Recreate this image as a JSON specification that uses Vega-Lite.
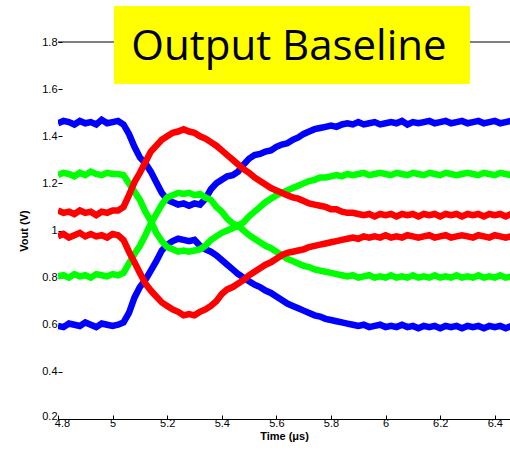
{
  "$schema": "https://vega.github.io/schema/vega-lite/v6.json",
  "width": 452,
  "height": 377,
  "autosize": {"type": "none"},
  "padding": {"left": 58, "top": 42, "right": 0, "bottom": 36},
  "background": "white",
  "config": {
    "view": {"stroke": null},
    "axis": {
      "grid": false,
      "labelFont": "Liberation Sans",
      "labelFontSize": 11,
      "labelColor": "#000000",
      "tickColor": "#000000",
      "domainColor": "#000000",
      "titleFont": "Liberation Sans",
      "titleFontSize": 11,
      "titleFontWeight": "bold",
      "titleColor": "#000000",
      "labelFlush": false,
      "labelOverlap": false
    }
  },
  "datasets": {
    "traces": [
      {"t": 4.80, "b1": 1.455, "b2": 0.595, "g1": 1.235, "g2": 0.805, "r1": 1.085, "r2": 0.975},
      {"t": 4.82, "b1": 1.465, "b2": 0.59, "g1": 1.245, "g2": 0.81, "r1": 1.075, "r2": 0.985},
      {"t": 4.84, "b1": 1.46, "b2": 0.605, "g1": 1.24, "g2": 0.80, "r1": 1.08, "r2": 0.97},
      {"t": 4.86, "b1": 1.45, "b2": 0.60, "g1": 1.23, "g2": 0.815, "r1": 1.07, "r2": 0.98},
      {"t": 4.88, "b1": 1.465, "b2": 0.595, "g1": 1.245, "g2": 0.805, "r1": 1.085, "r2": 0.99},
      {"t": 4.90, "b1": 1.455, "b2": 0.61, "g1": 1.235, "g2": 0.81, "r1": 1.075, "r2": 0.975},
      {"t": 4.92, "b1": 1.46, "b2": 0.60, "g1": 1.25, "g2": 0.80, "r1": 1.08, "r2": 0.985},
      {"t": 4.94, "b1": 1.45, "b2": 0.59, "g1": 1.24, "g2": 0.815, "r1": 1.065, "r2": 0.975},
      {"t": 4.96, "b1": 1.47, "b2": 0.605, "g1": 1.235, "g2": 0.81, "r1": 1.08, "r2": 0.98},
      {"t": 4.98, "b1": 1.455, "b2": 0.60, "g1": 1.245, "g2": 0.805, "r1": 1.075, "r2": 0.97},
      {"t": 5.00, "b1": 1.46, "b2": 0.595, "g1": 1.24, "g2": 0.815, "r1": 1.085, "r2": 0.985},
      {"t": 5.02, "b1": 1.465, "b2": 0.60, "g1": 1.24, "g2": 0.81, "r1": 1.085, "r2": 0.98},
      {"t": 5.04, "b1": 1.45, "b2": 0.61, "g1": 1.235, "g2": 0.82, "r1": 1.10, "r2": 0.96},
      {"t": 5.06, "b1": 1.41, "b2": 0.65, "g1": 1.20, "g2": 0.86, "r1": 1.15, "r2": 0.91},
      {"t": 5.08, "b1": 1.355, "b2": 0.715, "g1": 1.165, "g2": 0.90, "r1": 1.205, "r2": 0.865},
      {"t": 5.10, "b1": 1.31, "b2": 0.76, "g1": 1.13, "g2": 0.935, "r1": 1.245, "r2": 0.82},
      {"t": 5.12, "b1": 1.285, "b2": 0.79, "g1": 1.08, "g2": 0.98, "r1": 1.29, "r2": 0.775},
      {"t": 5.14, "b1": 1.25, "b2": 0.83, "g1": 1.04, "g2": 1.03, "r1": 1.335, "r2": 0.745},
      {"t": 5.16, "b1": 1.205, "b2": 0.87, "g1": 0.99, "g2": 1.07, "r1": 1.36, "r2": 0.72},
      {"t": 5.18, "b1": 1.16, "b2": 0.915, "g1": 0.955, "g2": 1.11, "r1": 1.385, "r2": 0.695},
      {"t": 5.20, "b1": 1.13, "b2": 0.94, "g1": 0.93, "g2": 1.14, "r1": 1.40, "r2": 0.68},
      {"t": 5.22, "b1": 1.12, "b2": 0.955, "g1": 0.92, "g2": 1.15, "r1": 1.415, "r2": 0.665},
      {"t": 5.24, "b1": 1.11, "b2": 0.965, "g1": 0.91, "g2": 1.16, "r1": 1.42, "r2": 0.655},
      {"t": 5.26, "b1": 1.115, "b2": 0.96, "g1": 0.915, "g2": 1.155, "r1": 1.43, "r2": 0.64},
      {"t": 5.28, "b1": 1.105, "b2": 0.955, "g1": 0.91, "g2": 1.16, "r1": 1.42, "r2": 0.645},
      {"t": 5.30, "b1": 1.115, "b2": 0.96, "g1": 0.915, "g2": 1.15, "r1": 1.415, "r2": 0.64},
      {"t": 5.32, "b1": 1.11, "b2": 0.935, "g1": 0.92, "g2": 1.155, "r1": 1.40, "r2": 0.655},
      {"t": 5.34, "b1": 1.135, "b2": 0.92, "g1": 0.935, "g2": 1.14, "r1": 1.39, "r2": 0.665},
      {"t": 5.36, "b1": 1.175, "b2": 0.91, "g1": 0.96, "g2": 1.13, "r1": 1.375, "r2": 0.68},
      {"t": 5.38, "b1": 1.20, "b2": 0.895, "g1": 0.975, "g2": 1.10, "r1": 1.36, "r2": 0.70},
      {"t": 5.40, "b1": 1.215, "b2": 0.875, "g1": 0.99, "g2": 1.08, "r1": 1.34, "r2": 0.73},
      {"t": 5.42, "b1": 1.23, "b2": 0.855, "g1": 1.0, "g2": 1.05, "r1": 1.32, "r2": 0.75},
      {"t": 5.44, "b1": 1.235, "b2": 0.835, "g1": 1.01, "g2": 1.03, "r1": 1.30, "r2": 0.76},
      {"t": 5.46, "b1": 1.25, "b2": 0.815, "g1": 1.02, "g2": 1.02, "r1": 1.28, "r2": 0.775},
      {"t": 5.48, "b1": 1.28, "b2": 0.80, "g1": 1.035, "g2": 1.0, "r1": 1.26, "r2": 0.79},
      {"t": 5.50, "b1": 1.305, "b2": 0.785, "g1": 1.06, "g2": 0.98, "r1": 1.245, "r2": 0.81},
      {"t": 5.52, "b1": 1.32, "b2": 0.77, "g1": 1.08, "g2": 0.965, "r1": 1.225, "r2": 0.825},
      {"t": 5.54, "b1": 1.325, "b2": 0.76, "g1": 1.10, "g2": 0.95, "r1": 1.21, "r2": 0.84},
      {"t": 5.56, "b1": 1.335, "b2": 0.745, "g1": 1.12, "g2": 0.935, "r1": 1.195, "r2": 0.855},
      {"t": 5.58, "b1": 1.34, "b2": 0.735, "g1": 1.135, "g2": 0.925, "r1": 1.18, "r2": 0.865},
      {"t": 5.60, "b1": 1.355, "b2": 0.72, "g1": 1.15, "g2": 0.91, "r1": 1.17, "r2": 0.88},
      {"t": 5.62, "b1": 1.365, "b2": 0.705, "g1": 1.16, "g2": 0.895, "r1": 1.16, "r2": 0.895},
      {"t": 5.64, "b1": 1.37, "b2": 0.69, "g1": 1.17, "g2": 0.88, "r1": 1.15, "r2": 0.905},
      {"t": 5.66, "b1": 1.385, "b2": 0.68, "g1": 1.18, "g2": 0.87, "r1": 1.14, "r2": 0.91},
      {"t": 5.68, "b1": 1.395, "b2": 0.67, "g1": 1.19, "g2": 0.86, "r1": 1.135, "r2": 0.915},
      {"t": 5.70, "b1": 1.41, "b2": 0.66, "g1": 1.20, "g2": 0.85, "r1": 1.125, "r2": 0.92},
      {"t": 5.72, "b1": 1.42, "b2": 0.65, "g1": 1.21, "g2": 0.845, "r1": 1.115, "r2": 0.93},
      {"t": 5.74, "b1": 1.43, "b2": 0.64, "g1": 1.215, "g2": 0.835, "r1": 1.11, "r2": 0.935},
      {"t": 5.76, "b1": 1.435, "b2": 0.635, "g1": 1.225, "g2": 0.83, "r1": 1.105, "r2": 0.94},
      {"t": 5.78, "b1": 1.44, "b2": 0.625, "g1": 1.225, "g2": 0.825, "r1": 1.10, "r2": 0.945},
      {"t": 5.80, "b1": 1.445, "b2": 0.62, "g1": 1.23, "g2": 0.82, "r1": 1.09, "r2": 0.95},
      {"t": 5.82, "b1": 1.44, "b2": 0.615, "g1": 1.235, "g2": 0.815, "r1": 1.09, "r2": 0.955},
      {"t": 5.84, "b1": 1.45, "b2": 0.61, "g1": 1.23, "g2": 0.81, "r1": 1.08, "r2": 0.96},
      {"t": 5.86, "b1": 1.455, "b2": 0.605, "g1": 1.24, "g2": 0.805, "r1": 1.075, "r2": 0.965},
      {"t": 5.88, "b1": 1.45, "b2": 0.60, "g1": 1.235, "g2": 0.81, "r1": 1.075, "r2": 0.97},
      {"t": 5.90, "b1": 1.46, "b2": 0.595, "g1": 1.24, "g2": 0.80, "r1": 1.07, "r2": 0.965},
      {"t": 5.92, "b1": 1.45, "b2": 0.60, "g1": 1.245, "g2": 0.805, "r1": 1.065, "r2": 0.975},
      {"t": 5.94, "b1": 1.455, "b2": 0.59, "g1": 1.235, "g2": 0.81, "r1": 1.07, "r2": 0.97},
      {"t": 5.96, "b1": 1.46, "b2": 0.595, "g1": 1.24, "g2": 0.80, "r1": 1.06, "r2": 0.975},
      {"t": 5.98, "b1": 1.45, "b2": 0.60, "g1": 1.245, "g2": 0.805, "r1": 1.07, "r2": 0.97},
      {"t": 6.00, "b1": 1.455, "b2": 0.59, "g1": 1.24, "g2": 0.80, "r1": 1.065, "r2": 0.98},
      {"t": 6.02, "b1": 1.46, "b2": 0.595, "g1": 1.235, "g2": 0.81, "r1": 1.07, "r2": 0.97},
      {"t": 6.04, "b1": 1.455, "b2": 0.59, "g1": 1.245, "g2": 0.80, "r1": 1.06, "r2": 0.975},
      {"t": 6.06, "b1": 1.465, "b2": 0.60, "g1": 1.24, "g2": 0.805, "r1": 1.07, "r2": 0.97},
      {"t": 6.08, "b1": 1.45, "b2": 0.59, "g1": 1.235, "g2": 0.80, "r1": 1.065, "r2": 0.98},
      {"t": 6.10, "b1": 1.46, "b2": 0.595, "g1": 1.245, "g2": 0.81, "r1": 1.07, "r2": 0.975},
      {"t": 6.12, "b1": 1.455, "b2": 0.585, "g1": 1.24, "g2": 0.80, "r1": 1.06, "r2": 0.97},
      {"t": 6.14, "b1": 1.46, "b2": 0.595, "g1": 1.235, "g2": 0.805, "r1": 1.07, "r2": 0.975},
      {"t": 6.16, "b1": 1.465, "b2": 0.59, "g1": 1.245, "g2": 0.80, "r1": 1.065, "r2": 0.98},
      {"t": 6.18, "b1": 1.455, "b2": 0.595, "g1": 1.24, "g2": 0.81, "r1": 1.07, "r2": 0.97},
      {"t": 6.20, "b1": 1.46, "b2": 0.585, "g1": 1.235, "g2": 0.80, "r1": 1.06, "r2": 0.975},
      {"t": 6.22, "b1": 1.465, "b2": 0.595, "g1": 1.245, "g2": 0.805, "r1": 1.07, "r2": 0.98},
      {"t": 6.24, "b1": 1.455, "b2": 0.59, "g1": 1.24, "g2": 0.80, "r1": 1.065, "r2": 0.97},
      {"t": 6.26, "b1": 1.46, "b2": 0.595, "g1": 1.235, "g2": 0.81, "r1": 1.07, "r2": 0.975},
      {"t": 6.28, "b1": 1.465, "b2": 0.585, "g1": 1.24, "g2": 0.80, "r1": 1.06, "r2": 0.98},
      {"t": 6.30, "b1": 1.455, "b2": 0.595, "g1": 1.245, "g2": 0.805, "r1": 1.07, "r2": 0.975},
      {"t": 6.32, "b1": 1.46, "b2": 0.59, "g1": 1.24, "g2": 0.80, "r1": 1.065, "r2": 0.97},
      {"t": 6.34, "b1": 1.465, "b2": 0.595, "g1": 1.235, "g2": 0.81, "r1": 1.07, "r2": 0.98},
      {"t": 6.36, "b1": 1.455, "b2": 0.585, "g1": 1.245, "g2": 0.80, "r1": 1.06, "r2": 0.975},
      {"t": 6.38, "b1": 1.46, "b2": 0.595, "g1": 1.24, "g2": 0.805, "r1": 1.07, "r2": 0.97},
      {"t": 6.40, "b1": 1.465, "b2": 0.59, "g1": 1.235, "g2": 0.80, "r1": 1.065, "r2": 0.98},
      {"t": 6.42, "b1": 1.455, "b2": 0.595, "g1": 1.245, "g2": 0.81, "r1": 1.07, "r2": 0.975},
      {"t": 6.44, "b1": 1.46, "b2": 0.585, "g1": 1.24, "g2": 0.80, "r1": 1.06, "r2": 0.97},
      {"t": 6.46, "b1": 1.465, "b2": 0.595, "g1": 1.235, "g2": 0.805, "r1": 1.07, "r2": 0.975}
    ]
  },
  "layer": [
    {
      "data": {"name": "traces"},
      "transform": [{"fold": ["b1", "b2", "g1", "g2", "r1", "r2"], "as": ["series", "v"]}],
      "mark": {"type": "line", "strokeWidth": 6.5, "clip": true},
      "encoding": {
        "x": {
          "field": "t",
          "type": "quantitative",
          "scale": {"domain": [4.8, 6.4557], "nice": false, "zero": false},
          "axis": {
            "values": [4.8, 5, 5.2, 5.4, 5.6, 5.8, 6, 6.2, 6.4],
            "format": "~g",
            "tickSize": -4,
            "labelPadding": 2,
            "labelOffset": {"condition": {"test": "datum.value === 4.8", "value": 4}, "value": 0},
            "title": "Time (μs)",
            "titlePadding": 2
          }
        },
        "y": {
          "field": "v",
          "type": "quantitative",
          "scale": {"domain": [0.2, 1.8], "nice": false, "zero": false},
          "axis": {
            "values": [0.2, 0.4, 0.6, 0.8, 1, 1.2, 1.4, 1.6, 1.8],
            "format": "~g",
            "domain": false,
            "tickSize": -4,
            "labelPadding": 5,
            "labelOffset": {"condition": {"test": "datum.value === 0.2", "value": -3}, "value": 0},
            "title": "Vout (V)",
            "titlePadding": 12
          }
        },
        "color": {
          "field": "series",
          "type": "nominal",
          "scale": {
            "domain": ["b1", "b2", "g1", "g2", "r1", "r2"],
            "range": ["#0000ff", "#0000ff", "#00ff00", "#00ff00", "#ff0000", "#ff0000"]
          },
          "legend": null
        }
      }
    },
    {
      "data": {"values": [{}]},
      "mark": {"type": "rule", "color": "#000000", "strokeWidth": 1},
      "encoding": {"y": {"datum": 1.8}}
    },
    {
      "data": {"values": [{}]},
      "mark": {"type": "rect", "color": "#ffff00", "opacity": 1},
      "encoding": {
        "x": {"datum": 5.005},
        "x2": {"datum": 6.309},
        "y": {"datum": 1.953},
        "y2": {"datum": 1.622}
      }
    },
    {
      "data": {"values": [{}]},
      "mark": {"type": "text", "text": "Output Baseline", "font": "Open Sans", "fontSize": 42, "align": "center", "baseline": "alphabetic", "color": "#000000"},
      "encoding": {
        "x": {"datum": 5.646},
        "y": {"datum": 1.724}
      }
    }
  ]
}
